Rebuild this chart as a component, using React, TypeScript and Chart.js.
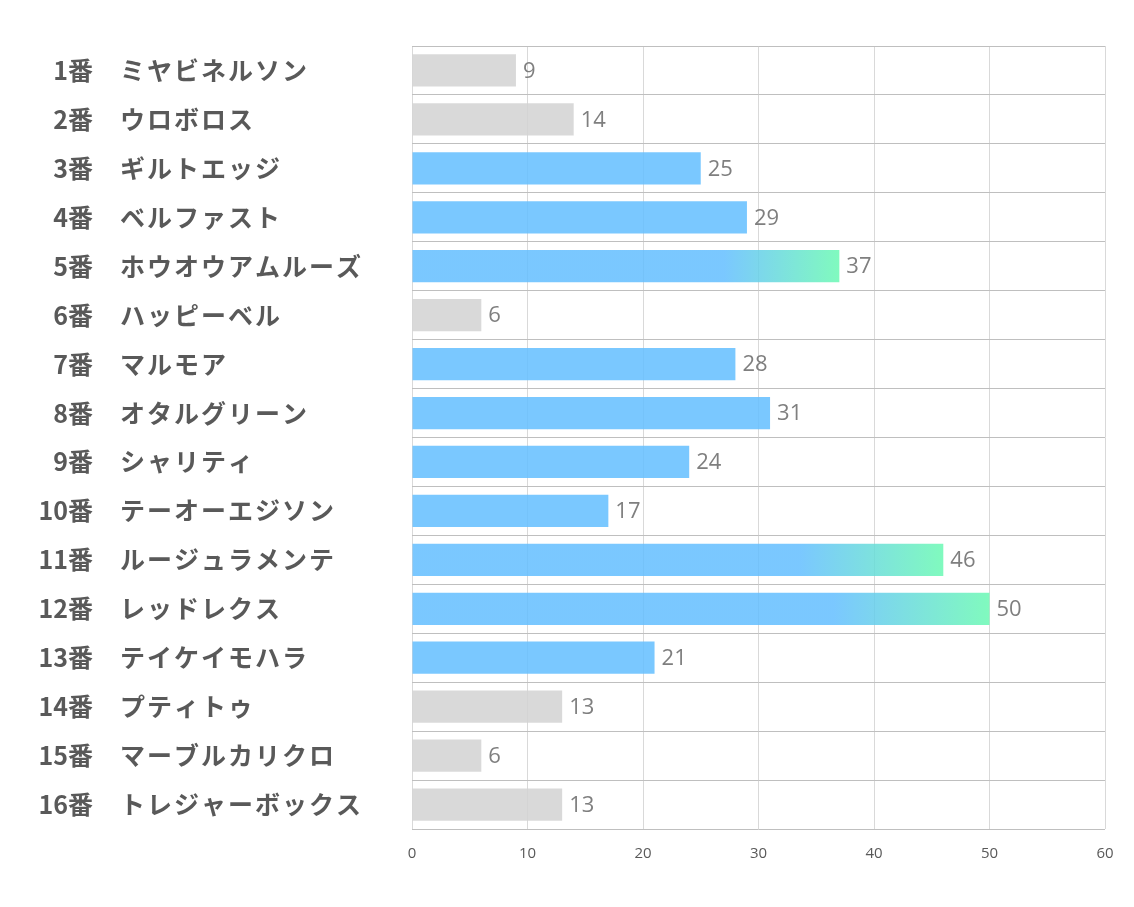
import React, { useEffect, useRef } from "react";
import { Chart, registerables } from "chart.js";

Chart.register(...registerables);

const numbers: string[] = ["1番","2番","3番","4番","5番","6番","7番","8番","9番","10番","11番","12番","13番","14番","15番","16番"];
const names: string[] = ["ミヤビネルソン","ウロボロス","ギルトエッジ","ベルファスト","ホウオウアムルーズ","ハッピーベル","マルモア","オタルグリーン","シャリティ","テーオーエジソン","ルージュラメンテ","レッドレクス","テイケイモハラ","プティトゥ","マーブルカリクロ","トレジャーボックス"];
const values: number[] = [9,14,25,29,37,6,28,31,24,17,46,50,21,13,6,13];
// bar kind: 0 = gray, 1 = blue, 2 = blue→green gradient
const kinds: number[] = [0,0,1,1,2,0,1,1,1,1,2,2,1,0,0,0];
const xTicks: number[] = [0,10,20,30,40,50,60];

const GRAY = "rgba(210,210,210,0.85)";
const BLUE = "rgba(99,190,255,0.85)";
const GREEN = "rgba(106,249,179,0.85)";

export default function App() {
  const ref = useRef<HTMLCanvasElement>(null);
  useEffect(() => {
    document.body.style.margin = "0";
    const labelPlugin = {
      id: "sideLabels",
      afterDraw(chart: any) {
        const ctx = chart.ctx;
        const y = chart.scales.y;
        const x = chart.scales.x;
        ctx.save();
        ctx.textBaseline = "middle";
        for (let i = 0; i < names.length; i++) {
          const py = y.getPixelForValue(i);
          ctx.fillStyle = "#595959";
          ctx.font = "bold 25px 'Noto Sans CJK JP'";
          ctx.letterSpacing = "0px";
          ctx.textAlign = "right";
          ctx.fillText(numbers[i], 93, py);
          ctx.textAlign = "left";
          ctx.letterSpacing = "2px";
          ctx.fillText(names[i], 120, py);
          ctx.letterSpacing = "0px";
          ctx.font = "22px 'Open Sans'";
          ctx.fillStyle = "#7f7f7f";
          ctx.fillText(String(values[i]), x.getPixelForValue(values[i]) + 7, py + 1);
        }
        ctx.restore();
      },
    };
    const chart = new Chart(ref.current!, {
      type: "bar",
      data: {
        labels: names,
        datasets: [
          {
            data: values,
            backgroundColor: (c: any) => {
              const i = c.dataIndex;
              const k = kinds[i];
              if (k === 0) return GRAY;
              if (k === 1) return BLUE;
              const chartObj = c.chart;
              const xs = chartObj.scales.x;
              if (!xs) return BLUE;
              const x0 = xs.getPixelForValue(0);
              const x1 = xs.getPixelForValue(values[i]);
              const g = chartObj.ctx.createLinearGradient(x0, 0, x1, 0);
              g.addColorStop(0, BLUE);
              g.addColorStop(0.73, BLUE);
              g.addColorStop(1, GREEN);
              return g;
            },
            borderWidth: 0,
            barPercentage: 0.66,
            categoryPercentage: 1,
          },
        ],
      },
      options: {
        indexAxis: "y",
        animation: false,
        responsive: false,
        maintainAspectRatio: false,
        layout: { padding: { left: 412, top: 46, right: 29, bottom: 28 } },
        plugins: { legend: { display: false }, tooltip: { enabled: false } },
        scales: {
          x: {
            min: 0,
            max: 60,
            afterBuildTicks: (s: any) => {
              s.ticks = xTicks.map((v) => ({ value: v }));
            },
            grid: { color: "#d9d9d9", drawTicks: false, lineWidth: 1 },
            border: { display: false },
            ticks: { color: "#595959", font: { family: "'Open Sans'", size: 15 }, padding: 16 },
          },
          y: {
            offset: true,
            afterFit: (s: any) => { s.width = 0; },
            grid: { color: "#bfbfbf", drawTicks: false, offset: true },
            border: { display: false },
            ticks: { display: false },
          },
        },
      },
      plugins: [labelPlugin],
    } as any);
    return () => chart.destroy();
  }, []);
  return (
    <div style={{ position: "absolute", left: 0, top: 0, width: 1134, height: 907 }}>
      <canvas ref={ref} width={1134} height={907} />
    </div>
  );
}
